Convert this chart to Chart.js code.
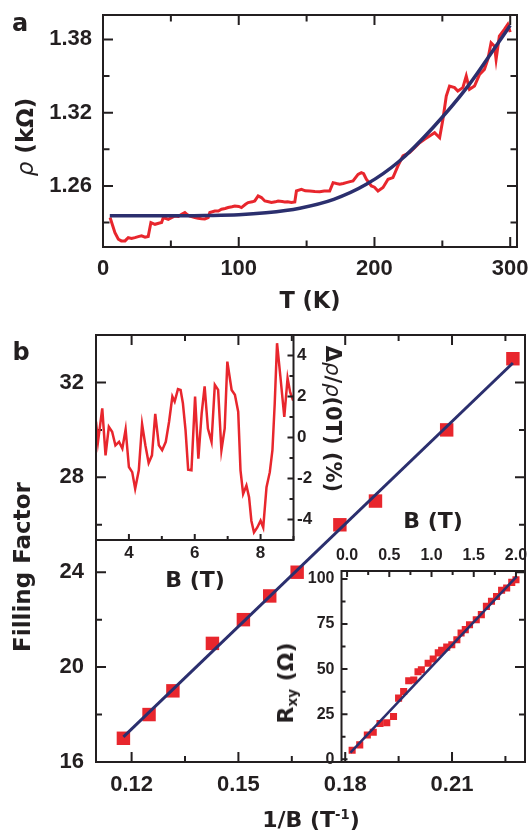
<!DOCTYPE html>
<html>
<head>
<meta charset="utf-8">
<script src="https://cdn.jsdelivr.net/npm/chart.js@4.4.1/dist/chart.umd.min.js"></script>
<style>
  html, body { margin: 0; background: #fff; }
  #fig { position: relative; width: 530px; height: 836px; overflow: hidden; background: #fff; }
  #fig canvas { position: absolute; left: -50px; top: -50px; }
  .lbl {
    position: absolute; white-space: nowrap; line-height: 1;
    font-family: "DejaVu Sans", sans-serif; font-weight: bold; color: #231f20;
    transform: translate(-50%, -50%);
  }
  .rotL { transform: translate(-50%, -50%) rotate(-90deg); }
  .rotR { transform: translate(-50%, -50%) rotate(90deg); }
  .rho { font-style: italic; font-weight: normal; }
  .sup { font-size: 0.6em; position: relative; top: -0.6em; }
  .sub { font-size: 0.62em; position: relative; top: 0.3em; }
</style>
</head>
<body>
<div id="fig">
  <canvas id="panelA" width="630" height="936"></canvas>
  <canvas id="panelB" width="630" height="936"></canvas>
  <canvas id="insetMR" width="630" height="936"></canvas>
  <canvas id="insetHall" width="630" height="936"></canvas>

  <div class="lbl" style="left:20px;top:23px;font-size:24px">a</div>
  <div class="lbl" style="left:21px;top:352px;font-size:24px">b</div>

  <div class="lbl rotL" style="left:25px;top:137px;font-size:23px"><span class="rho">ρ</span> (kΩ)</div>
  <div class="lbl" style="left:310px;top:300px;font-size:22.5px">T (K)</div>

  <div class="lbl rotL" style="left:22px;top:567px;font-size:23px">Filling Factor</div>
  <div class="lbl" style="left:311px;top:820px;font-size:22px">1/B (T<span class="sup">-1</span>)</div>

  <div class="lbl" style="left:195px;top:580px;font-size:22px">B (T)</div>
  <div class="lbl rotR" style="left:332px;top:419px;font-size:21px">Δ<span class="rho">ρ</span>/<span class="rho">ρ</span>(0T) (%)</div>

  <div class="lbl" style="left:433px;top:521px;font-size:22px">B (T)</div>
  <div class="lbl rotL" style="left:286px;top:683px;font-size:22px">R<span class="sub">xy</span> (Ω)</div>
</div>

<script>
// ------------------------------------------------------
// data: panel a, resistivity vs temperature
// ------------------------------------------------------
const tempK = [5.2, 8.8, 11.3, 13.5, 16.2, 18.6, 21, 23.5, 26, 28.4, 31, 33.3, 35.3, 38.3, 41, 43.2, 44.4,
  48.1, 50.5, 53, 55.5, 57.9, 60.3, 62, 64, 67.7, 70, 72.6, 75, 77.5, 78.7, 82.4, 85, 87.3, 90, 92.2, 95,
  97.1, 100, 102, 105, 106.9, 110, 111.8, 114.3, 116.7, 119.2, 122, 124.1, 127, 129, 132, 133.9, 136,
  138.8, 141.3, 142.5, 146.2, 149, 152.3, 156, 159.7, 163, 167, 169.5, 172, 174.4, 177, 179.3, 182,
  184.2, 187.9, 190.3, 192, 194, 197.7, 200, 202.6, 206.3, 210, 213.6, 217.3, 221, 225.9, 229.6, 233.3,
  236.9, 240.6, 244.3, 248, 250.4, 252.9, 255.3, 259, 261.4, 265.1, 267.6, 270, 273.7, 277.4, 281,
  283.5, 285.9, 288.4, 289.6, 292, 295.7, 298.2, 300];
const rhoKOhm = [1.2341, 1.2218, 1.2164, 1.2150, 1.2150, 1.2177, 1.2170, 1.2177, 1.2185, 1.2191, 1.2180,
  1.2186, 1.2300, 1.2286, 1.2295, 1.2300, 1.2341, 1.2327, 1.2340, 1.2354, 1.2350, 1.2368, 1.2382, 1.2365,
  1.2354, 1.2341, 1.2335, 1.2332, 1.2330, 1.2341, 1.2382, 1.2395, 1.2395, 1.2409, 1.2415, 1.2423, 1.2430,
  1.2436, 1.2432, 1.2423, 1.2450, 1.2464, 1.2470, 1.2477, 1.2518, 1.2505, 1.2477, 1.2470, 1.2464, 1.2470,
  1.2477, 1.2472, 1.2469, 1.2470, 1.2464, 1.2469, 1.2559, 1.2573, 1.2560, 1.2559, 1.2555, 1.2552, 1.2558,
  1.2559, 1.2627, 1.2620, 1.2614, 1.2620, 1.2627, 1.2635, 1.2641, 1.2695, 1.2709, 1.2700, 1.2655, 1.2600,
  1.2590, 1.2559, 1.2587, 1.2655, 1.2668, 1.2764, 1.2846, 1.2873, 1.2914, 1.2954, 1.2982, 1.3009, 1.3036,
  1.2995, 1.3145, 1.3336, 1.3418, 1.3405, 1.3377, 1.3405, 1.3500, 1.3391, 1.3418, 1.3514, 1.3555, 1.3636,
  1.3773, 1.3745, 1.3636, 1.3827, 1.3882, 1.3923, 1.3860];
const fitTempK = [5, 50, 75, 100, 120, 145, 170, 194, 218, 243, 268, 292, 300];
const fitRho = [1.2355, 1.2355, 1.2358, 1.2364, 1.2380, 1.2418, 1.2490, 1.2613, 1.2800, 1.3077, 1.3405, 1.3786, 1.3915];

// ------------------------------------------------------
// data: panel b, Landau level index vs 1/B
// ------------------------------------------------------
const invField = [0.1177, 0.1249, 0.1316, 0.1427, 0.1514, 0.1588, 0.1665, 0.1785, 0.1885, 0.2085, 0.2271];
const fillingFactor = [17, 18, 19, 21, 22, 23, 24, 26, 27, 30, 33];
const ffFitX = [0.1177, 0.2271];
const ffFitY = [17.06, 32.82];

// inset: magnetoresistance
const mrB = [3.0, 3.06, 3.19, 3.29, 3.39, 3.49, 3.59, 3.70, 3.80, 3.90, 4.00, 4.10, 4.19, 4.30, 4.40, 4.50,
  4.60, 4.70, 4.80, 4.91, 5.01, 5.12, 5.22, 5.32, 5.39, 5.49, 5.57, 5.64, 5.72, 5.80, 5.90, 6.01, 6.11,
  6.21, 6.30, 6.40, 6.51, 6.61, 6.71, 6.81, 6.91, 6.99, 7.12, 7.22, 7.32, 7.39, 7.47, 7.57, 7.65, 7.72,
  7.80, 7.90, 8.00, 8.08, 8.18, 8.28, 8.36, 8.43, 8.50, 8.60, 8.72, 8.82, 8.90, 8.99];
const mrPct = [0.77, -0.21, 1.42, -0.87, 0.52, 0.28, -0.38, -0.21, -0.54, 0.39, -1.44, -1.69, -2.50, -1.60,
  0.65, -0.38, -1.24, -0.87, 1.15, -0.38, -0.62, -0.21, 0.77, 2.0, 1.75, 2.36, 2.32, 1.67, 0.36, -1.57,
  -1.60, 2.0, -1.03, 1.18, 2.49, 0.44, -0.21, 2.57, 2.32, -0.62, 0.44, 3.7, 2.32, 2.08, 1.26, -1.60,
  -2.75, -2.34, -2.91, -4.06, -4.63, -4.39, -4.06, -4.39, -2.42, -1.69, -0.62, 1.67, 4.6, 3.0, 1.0, 2.9,
  2.2, 1.8];

// inset: Hall resistance
const hallB = [0.06, 0.15, 0.24, 0.31, 0.39, 0.47, 0.55, 0.61, 0.67, 0.73, 0.79, 0.84, 0.88, 0.96, 1.02,
  1.08, 1.12, 1.18, 1.24, 1.30, 1.35, 1.40, 1.45, 1.53, 1.59, 1.65, 1.71, 1.77, 1.83, 1.89, 1.95, 2.00];
const hallR = [5, 8, 13.5, 15, 19.8, 20.3, 23.7, 33.9, 37.6, 43.5, 44, 48.5, 49.6, 53.3, 55.6, 59, 60.4,
  62.2, 63.5, 66.3, 70, 71.9, 74.6, 77.4, 80.2, 84.8, 87.6, 90.3, 93.7, 95, 98.1, 99.5];
const hallFitB = [0.04, 2.01];
const hallFitR = [3.7, 101.4];

// ------------------------------------------------------
// layout helpers
// ------------------------------------------------------
const INK = '#231f20';
const RED = '#e8262d';
const NAVY = '#2b2f6e';
const FIG_W = 530, FIG_H = 836, OFF = 50;
const AXIS_W = 60, AXIS_H = 40;   // axis boxes must hold the labels, they get clipped to them

Chart.defaults.font.family = '"Liberation Sans", Arial, sans-serif';
Chart.defaults.color = INK;

const pts = (xs, ys) => xs.map((x, i) => ({ x, y: ys[i] }));

// padding so that the plot box lands on the given figure rectangle
function place(area, xPos, yPos) {
  return {
    left: OFF + area.left - (yPos === 'left' ? AXIS_W : 0),
    right: OFF + FIG_W - area.right - (yPos === 'right' ? AXIS_W : 0),
    top: OFF + area.top - (xPos === 'top' ? AXIS_H : 0),
    bottom: OFF + FIG_H - area.bottom - (xPos === 'bottom' ? AXIS_H : 0)
  };
}

function axis(pos, min, max, step, isMajor, fmt, size, pad) {
  return {
    type: 'linear', position: pos, min, max,
    grid: { display: false, drawTicks: false },
    border: { display: false },
    afterFit: s => { if (s.isHorizontal()) s.height = AXIS_H; else s.width = AXIS_W; },
    ticks: {
      stepSize: step, includeBounds: false, autoSkip: false, maxRotation: 0, minRotation: 0,
      padding: pad, color: INK, font: { size, weight: 'bold' },
      callback: v => isMajor(v) ? fmt(v) : ''
    }
  };
}

// box outline plus inward tick marks
function frame(spec) {
  return {
    id: 'frame',
    afterDraw(chart) {
      const { ctx, chartArea: a, scales } = chart;
      ctx.save();
      ctx.strokeStyle = INK;
      ctx.lineWidth = spec.lw;
      ctx.beginPath();
      scales.x.ticks.forEach(t => {
        const px = scales.x.getPixelForValue(t.value);
        const len = spec.xMajor(t.value) ? spec.major : spec.minor;
        if (spec.xSides.includes('bottom')) { ctx.moveTo(px, a.bottom); ctx.lineTo(px, a.bottom - len); }
        if (spec.xSides.includes('top')) { ctx.moveTo(px, a.top); ctx.lineTo(px, a.top + len); }
      });
      scales.y.ticks.forEach(t => {
        const py = scales.y.getPixelForValue(t.value);
        const len = spec.yMajor(t.value) ? spec.major : spec.minor;
        if (spec.ySides.includes('left')) { ctx.moveTo(a.left, py); ctx.lineTo(a.left + len, py); }
        if (spec.ySides.includes('right')) { ctx.moveTo(a.right, py); ctx.lineTo(a.right - len, py); }
      });
      ctx.stroke();
      ctx.strokeRect(a.left, a.top, a.right - a.left, a.bottom - a.top);
      ctx.restore();
    }
  };
}

function options(area, xAxis, yAxis) {
  return {
    responsive: false, animation: false, events: [],
    layout: { padding: place(area, xAxis.position, yAxis.position) },
    plugins: { legend: { display: false }, tooltip: { enabled: false } },
    scales: { x: xAxis, y: yAxis }
  };
}

// ------------------------------------------------------
// panel a
// ------------------------------------------------------
const aXMajor = v => v % 100 === 0;
const aYMajor = v => Math.round(v * 100) % 6 === 0;
new Chart(document.getElementById('panelA'), {
  type: 'line',
  data: {
    datasets: [
      { data: pts(fitTempK, fitRho), borderColor: NAVY, borderWidth: 3.5, pointRadius: 0,
        cubicInterpolationMode: 'monotone', order: 0 },
      { data: pts(tempK, rhoKOhm), borderColor: RED, borderWidth: 3, pointRadius: 0, order: 1 }
    ]
  },
  options: options({ left: 103, top: 15, right: 517, bottom: 247 },
    axis('bottom', 0, 305, 50, aXMajor, v => String(v), 22, 9),
    axis('left', 1.21, 1.40, 0.03, aYMajor, v => v.toFixed(2), 22, 11)),
  plugins: [frame({ lw: 2, major: 10, minor: 6.5, xMajor: aXMajor, yMajor: aYMajor,
    xSides: ['bottom', 'top'], ySides: ['left', 'right'] })]
});

// ------------------------------------------------------
// panel b, main plot
// ------------------------------------------------------
// range is not a whole number of steps, so ticks stay on multiples of 0.015
const bXMajor = v => Math.round(v * 1000) % 30 === 0;
const bYMajor = v => v % 4 === 0;
new Chart(document.getElementById('panelB'), {
  type: 'line',
  data: {
    datasets: [
      { data: pts(ffFitX, ffFitY), borderColor: NAVY, borderWidth: 3, pointRadius: 0, order: 0 },
      { data: pts(invField, fillingFactor), showLine: false, pointStyle: 'rect', pointRadius: 9.5,
        pointBackgroundColor: RED, pointBorderWidth: 0, order: 1 }
    ]
  },
  options: options({ left: 96, top: 335, right: 525, bottom: 762 },
    axis('bottom', 0.11, 0.2305, 0.015, bXMajor, v => v.toFixed(2), 22, 10),
    axis('left', 16, 34, 2, bYMajor, v => String(v), 22, 12)),
  plugins: [frame({ lw: 2, major: 10, minor: 6, xMajor: bXMajor, yMajor: bYMajor,
    xSides: ['bottom', 'top'], ySides: ['left', 'right'] })]
});

// ------------------------------------------------------
// inset: Δρ/ρ vs B
// ------------------------------------------------------
const mrMajor = v => Math.round(v) % 2 === 0;
new Chart(document.getElementById('insetMR'), {
  type: 'line',
  data: {
    datasets: [
      { data: pts(mrB, mrPct), borderColor: RED, borderWidth: 2.5, pointRadius: 0 }
    ]
  },
  options: options({ left: 96, top: 335, right: 293.5, bottom: 540 },
    axis('bottom', 3, 9, 1, mrMajor, v => String(v), 17, 3),
    axis('right', -5, 5, 1, mrMajor, v => String(v), 17, 3.5)),
  plugins: [frame({ lw: 2, major: 6, minor: 4, xMajor: mrMajor, yMajor: mrMajor,
    xSides: ['bottom'], ySides: ['right'] })]
});

// ------------------------------------------------------
// inset: Hall resistance vs B
// ------------------------------------------------------
const hXMajor = v => Math.round(v * 100) % 50 === 0;
const hYMajor = v => Math.round(v * 10) % 250 === 0;
new Chart(document.getElementById('insetHall'), {
  type: 'line',
  data: {
    datasets: [
      { data: pts(hallFitB, hallFitR), borderColor: NAVY, borderWidth: 2.5, pointRadius: 0, order: 0 },
      { data: pts(hallB, hallR), showLine: false, pointStyle: 'rect', pointRadius: 5,
        pointBackgroundColor: RED, pointBorderWidth: 0, order: 1 }
    ]
  },
  options: options({ left: 341.5, top: 571, right: 525, bottom: 762 },
    axis('top', -0.066, 2.107, 0.25, hXMajor, v => v.toFixed(1), 16, 6),
    axis('left', -1.5, 104.4, 12.5, hYMajor, v => String(v), 16, 7)),
  plugins: [frame({ lw: 2, major: 6, minor: 4, xMajor: hXMajor, yMajor: hYMajor,
    xSides: ['top'], ySides: ['left'] })]
});
</script>
</body>
</html>
